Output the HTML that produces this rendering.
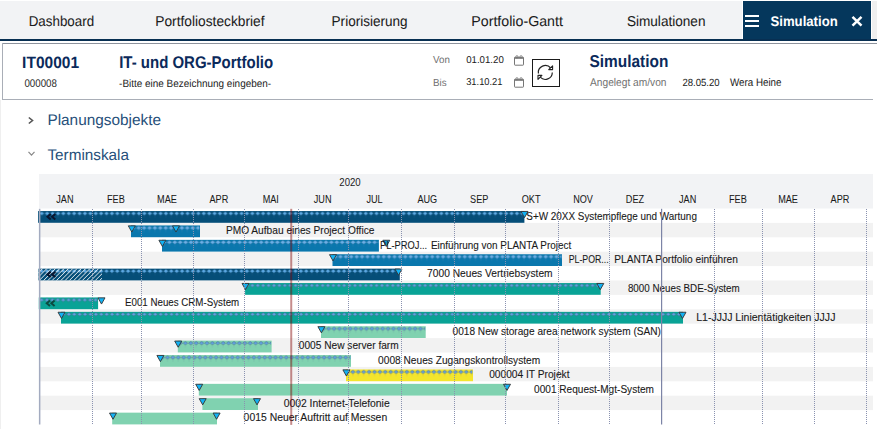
<!DOCTYPE html>
<html><head><meta charset="utf-8"><style>
html,body{margin:0;padding:0;background:#fff;width:877px;height:429px;overflow:hidden;position:relative;font-family:"Liberation Sans",sans-serif}
.t{position:absolute;white-space:pre}
.abs{position:absolute}
</style></head><body>
<div class="abs" style="left:0;top:1px;width:877px;height:38px;background:#f2f3f5"></div>
<div class="abs" style="left:742px;top:1px;width:1px;height:38px;background:#fff"></div>
<div class="abs" style="left:743px;top:1px;width:128px;height:38px;background:#05375c"></div>
<div class="abs" style="left:871px;top:1px;width:1px;height:38px;background:#fff"></div>
<div class="abs" style="left:872px;top:1px;width:5px;height:37.5px;background:#efefef"></div>
<div class="abs" style="left:0;top:39px;width:877px;height:2px;background:#082f52"></div>
<div class="abs" style="left:744.8px;top:14.9px;width:14.6px;height:1.8px;background:#fff"></div>
<div class="abs" style="left:744.8px;top:20.0px;width:14.6px;height:1.8px;background:#fff"></div>
<div class="abs" style="left:744.8px;top:25.1px;width:14.6px;height:1.8px;background:#fff"></div>
<svg class="abs" style="left:850px;top:14px" width="14" height="14" viewBox="0 0 14 14"><path d="M2.5 2.8L11.5 11.7M11.5 2.8L2.5 11.7" stroke="#fff" stroke-width="2.5" fill="none"/></svg>
<div class="abs" style="left:0;top:100px;width:1px;height:329px;background:#efefef"></div>
<div class="abs" style="left:2px;top:43px;width:875px;height:1px;background:#8d939d"></div>
<div class="abs" style="left:2px;top:43px;width:1px;height:57px;background:#a9aeb7"></div>
<div class="abs" style="left:2px;top:99px;width:871px;height:1px;background:#a9aeb7"></div>
<svg class="abs" style="left:513px;top:55.2px" width="12" height="12" viewBox="0 0 12 12"><rect x="1.5" y="2.2" width="9" height="8" rx="0.6" fill="none" stroke="#666" stroke-width="0.9"/><rect x="1.5" y="2.2" width="9" height="1.6" fill="#777"/><rect x="2.9" y="0.6" width="2" height="2.4" rx="0.8" fill="none" stroke="#777" stroke-width="0.7"/><rect x="7.1" y="0.6" width="2" height="2.4" rx="0.8" fill="none" stroke="#777" stroke-width="0.7"/></svg>
<svg class="abs" style="left:513px;top:76.8px" width="12" height="12" viewBox="0 0 12 12"><rect x="1.5" y="2.2" width="9" height="8" rx="0.6" fill="none" stroke="#666" stroke-width="0.9"/><rect x="1.5" y="2.2" width="9" height="1.6" fill="#777"/><rect x="2.9" y="0.6" width="2" height="2.4" rx="0.8" fill="none" stroke="#777" stroke-width="0.7"/><rect x="7.1" y="0.6" width="2" height="2.4" rx="0.8" fill="none" stroke="#777" stroke-width="0.7"/></svg>
<div class="abs" style="left:532px;top:59px;width:26px;height:26px;border:1px solid #1a1a1a;background:#fff"></div>
<svg class="abs" style="left:532px;top:59px" width="28" height="28" viewBox="0 0 28 28"><path d="M6.4 14.5A7 7 0 0 1 18.7 9" fill="none" stroke="#222" stroke-width="1.2"/><path d="M20.3 13.5A7 7 0 0 1 8.2 18.2" fill="none" stroke="#222" stroke-width="1.2"/><path d="M20.6 6.8L20.6 10.6L16.7 10.6Z" fill="#fff" stroke="#222" stroke-width="1.1" stroke-linejoin="round"/><path d="M6 20.3L6 16.4L9.9 16.4Z" fill="#fff" stroke="#222" stroke-width="1.1" stroke-linejoin="round"/></svg>
<svg class="abs" style="left:27px;top:116px" width="8" height="9" viewBox="0 0 8 9"><path d="M1.8 1.5L5.5 4.5L1.8 7.5" fill="none" stroke="#555" stroke-width="1.6"/></svg>
<svg class="abs" style="left:27px;top:150px" width="9" height="8" viewBox="0 0 9 8"><path d="M1.5 1.8L4.5 5.2L7.5 1.8" fill="none" stroke="#888" stroke-width="1.2"/></svg>
<svg class="abs" style="left:0;top:0" width="877" height="429" viewBox="0 0 877 429">
<defs><pattern id="d0" patternUnits="userSpaceOnUse" x="1.26" y="206.55" width="5.4" height="14.4">
<path d="M2.7 5.25L5.0 7L2.7 8.75L0.4 7Z" fill="#5eaeea" stroke="#3f6f96" stroke-width="0.3"/>
<rect x="2.45" y="8.8" width="0.5" height="2.6" fill="#3f6f96" opacity="0.3"/>
</pattern><pattern id="d1" patternUnits="userSpaceOnUse" x="1.00" y="206.55" width="5.4" height="14.4">
<path d="M2.7 5.25L5.0 7L2.7 8.75L0.4 7Z" fill="#6ab0ea" stroke="#6d8fae" stroke-width="0.35"/>
<rect x="2.45" y="8.8" width="0.5" height="2.6" fill="#6d8fae" opacity="0.25"/>
</pattern><pattern id="d2" patternUnits="userSpaceOnUse" x="-0.70" y="206.55" width="5.4" height="14.4">
<path d="M2.7 5.25L5.0 7L2.7 8.75L0.4 7Z" fill="#6ab0ea" stroke="#6d8fae" stroke-width="0.35"/>
<rect x="2.45" y="8.8" width="0.5" height="2.6" fill="#6d8fae" opacity="0.25"/>
</pattern><pattern id="d3" patternUnits="userSpaceOnUse" x="-2.40" y="206.55" width="5.4" height="14.4">
<path d="M2.7 5.25L5.0 7L2.7 8.75L0.4 7Z" fill="#6ab0ea" stroke="#6d8fae" stroke-width="0.35"/>
<rect x="2.45" y="8.8" width="0.5" height="2.6" fill="#6d8fae" opacity="0.25"/>
</pattern><pattern id="d4" patternUnits="userSpaceOnUse" x="1.20" y="206.55" width="5.4" height="14.4">
<path d="M2.7 5.25L5.0 7L2.7 8.75L0.4 7Z" fill="#5eaeea" stroke="#3f6f96" stroke-width="0.3"/>
<rect x="2.45" y="8.8" width="0.5" height="2.6" fill="#3f6f96" opacity="0.3"/>
</pattern><pattern id="d5" patternUnits="userSpaceOnUse" x="1.30" y="206.55" width="5.4" height="14.4">
<path d="M2.7 5.25L5.0 7L2.7 8.75L0.4 7Z" fill="#5fa2e6" stroke="#4a6580" stroke-width="0.5"/>
<rect x="2.45" y="8.8" width="0.5" height="2.6" fill="#4a6580" opacity="0.2"/>
</pattern><pattern id="d6" patternUnits="userSpaceOnUse" x="1.10" y="206.55" width="5.4" height="14.4">
<path d="M2.7 5.25L5.0 7L2.7 8.75L0.4 7Z" fill="#5fa2e6" stroke="#4a6580" stroke-width="0.5"/>
<rect x="2.45" y="8.8" width="0.5" height="2.6" fill="#4a6580" opacity="0.2"/>
</pattern><pattern id="d7" patternUnits="userSpaceOnUse" x="1.40" y="206.55" width="5.4" height="14.4">
<path d="M2.7 5.25L5.0 7L2.7 8.75L0.4 7Z" fill="#5fa2e6" stroke="#4a6580" stroke-width="0.5"/>
<rect x="2.45" y="8.8" width="0.5" height="2.6" fill="#4a6580" opacity="0.2"/>
</pattern><pattern id="d8" patternUnits="userSpaceOnUse" x="2.00" y="206.55" width="5.4" height="14.4">
<path d="M2.7 5.25L5.0 7L2.7 8.75L0.4 7Z" fill="#5fa2e6" stroke="#4a6580" stroke-width="0.5"/>
<rect x="2.45" y="8.8" width="0.5" height="2.6" fill="#4a6580" opacity="0.2"/>
</pattern><pattern id="d9" patternUnits="userSpaceOnUse" x="-0.90" y="206.55" width="5.4" height="14.4">
<path d="M2.7 5.25L5.0 7L2.7 8.75L0.4 7Z" fill="#5fa2e6" stroke="#4a6580" stroke-width="0.5"/>
<rect x="2.45" y="8.8" width="0.5" height="2.6" fill="#4a6580" opacity="0.2"/>
</pattern><pattern id="d10" patternUnits="userSpaceOnUse" x="-2.60" y="206.55" width="5.4" height="14.4">
<path d="M2.7 5.25L5.0 7L2.7 8.75L0.4 7Z" fill="#5fa2e6" stroke="#4a6580" stroke-width="0.5"/>
<rect x="2.45" y="8.8" width="0.5" height="2.6" fill="#4a6580" opacity="0.2"/>
</pattern><pattern id="d11" patternUnits="userSpaceOnUse" x="-0.80" y="206.55" width="5.4" height="14.4">
<path d="M2.7 5.25L5.0 7L2.7 8.75L0.4 7Z" fill="#5fa2e6" stroke="#4a6580" stroke-width="0.5"/>
<rect x="2.45" y="8.8" width="0.5" height="2.6" fill="#4a6580" opacity="0.2"/>
</pattern><pattern id="hatch" patternUnits="userSpaceOnUse" width="3.05" height="3.05" patternTransform="rotate(45)"><rect x="0" y="0" width="0.75" height="3.05" fill="#ffffff" opacity="0.85"/></pattern></defs>
<rect x="39" y="174" width="834" height="34.5" fill="#f2f3f5"/>
<rect x="39" y="222.90" width="834" height="14.4" fill="#f2f2f2"/>
<rect x="39" y="251.70" width="834" height="14.4" fill="#f2f2f2"/>
<rect x="39" y="280.50" width="834" height="14.4" fill="#f2f2f2"/>
<rect x="39" y="309.30" width="834" height="14.4" fill="#f2f2f2"/>
<rect x="39" y="338.10" width="834" height="14.4" fill="#f2f2f2"/>
<rect x="39" y="366.90" width="834" height="14.4" fill="#f2f2f2"/>
<rect x="39" y="395.70" width="834" height="14.4" fill="#f2f2f2"/>
<text x="56.27" y="203" font-family='"Liberation Sans", sans-serif' font-size="10.0" fill="#1a1a1a" stroke="#1a1a1a" stroke-width="0.06" textLength="17.21" lengthAdjust="spacingAndGlyphs">JAN</text>
<text x="107.05" y="203" font-family='"Liberation Sans", sans-serif' font-size="10.0" fill="#1a1a1a" stroke="#1a1a1a" stroke-width="0.06" textLength="17.74" lengthAdjust="spacingAndGlyphs">FEB</text>
<text x="157.09" y="203" font-family='"Liberation Sans", sans-serif' font-size="10.0" fill="#1a1a1a" stroke="#1a1a1a" stroke-width="0.06" textLength="19.76" lengthAdjust="spacingAndGlyphs">MAE</text>
<text x="209.50" y="203" font-family='"Liberation Sans", sans-serif' font-size="10.0" fill="#1a1a1a" stroke="#1a1a1a" stroke-width="0.06" textLength="18.74" lengthAdjust="spacingAndGlyphs">APR</text>
<text x="262.66" y="203" font-family='"Liberation Sans", sans-serif' font-size="10.0" fill="#1a1a1a" stroke="#1a1a1a" stroke-width="0.06" textLength="16.21" lengthAdjust="spacingAndGlyphs">MAI</text>
<text x="313.80" y="203" font-family='"Liberation Sans", sans-serif' font-size="10.0" fill="#1a1a1a" stroke="#1a1a1a" stroke-width="0.06" textLength="17.73" lengthAdjust="spacingAndGlyphs">JUN</text>
<text x="366.46" y="203" font-family='"Liberation Sans", sans-serif' font-size="10.0" fill="#1a1a1a" stroke="#1a1a1a" stroke-width="0.06" textLength="16.21" lengthAdjust="spacingAndGlyphs">JUL</text>
<text x="417.44" y="203" font-family='"Liberation Sans", sans-serif' font-size="10.0" fill="#1a1a1a" stroke="#1a1a1a" stroke-width="0.06" textLength="19.76" lengthAdjust="spacingAndGlyphs">AUG</text>
<text x="470.09" y="203" font-family='"Liberation Sans", sans-serif' font-size="10.0" fill="#1a1a1a" stroke="#1a1a1a" stroke-width="0.06" textLength="18.24" lengthAdjust="spacingAndGlyphs">SEP</text>
<text x="521.74" y="203" font-family='"Liberation Sans", sans-serif' font-size="10.0" fill="#1a1a1a" stroke="#1a1a1a" stroke-width="0.06" textLength="18.74" lengthAdjust="spacingAndGlyphs">OKT</text>
<text x="573.13" y="203" font-family='"Liberation Sans", sans-serif' font-size="10.0" fill="#1a1a1a" stroke="#1a1a1a" stroke-width="0.06" textLength="19.76" lengthAdjust="spacingAndGlyphs">NOV</text>
<text x="625.80" y="203" font-family='"Liberation Sans", sans-serif' font-size="10.0" fill="#1a1a1a" stroke="#1a1a1a" stroke-width="0.06" textLength="18.23" lengthAdjust="spacingAndGlyphs">DEZ</text>
<text x="679.05" y="203" font-family='"Liberation Sans", sans-serif' font-size="10.0" fill="#1a1a1a" stroke="#1a1a1a" stroke-width="0.06" textLength="17.21" lengthAdjust="spacingAndGlyphs">JAN</text>
<text x="728.99" y="203" font-family='"Liberation Sans", sans-serif' font-size="10.0" fill="#1a1a1a" stroke="#1a1a1a" stroke-width="0.06" textLength="17.74" lengthAdjust="spacingAndGlyphs">FEB</text>
<text x="778.17" y="203" font-family='"Liberation Sans", sans-serif' font-size="10.0" fill="#1a1a1a" stroke="#1a1a1a" stroke-width="0.06" textLength="19.76" lengthAdjust="spacingAndGlyphs">MAE</text>
<text x="830.58" y="203" font-family='"Liberation Sans", sans-serif' font-size="10.0" fill="#1a1a1a" stroke="#1a1a1a" stroke-width="0.06" textLength="18.74" lengthAdjust="spacingAndGlyphs">APR</text>
<text x="350" y="186" font-family='"Liberation Sans", sans-serif' font-size="10.8" fill="#1a1a1a" text-anchor="middle" textLength="21.4" lengthAdjust="spacingAndGlyphs">2020</text>
<rect x="38.10" y="211.05" width="486.30" height="11.75" fill="#054e78"/>
<rect x="38.60" y="211.05" width="485.30" height="8" fill="url(#d0)"/>
<path d="M50.70 214.10L47.50 216.80L50.70 219.50" fill="none" stroke="#0a1630" stroke-width="2"/>
<path d="M55.30 214.10L52.10 216.80L55.30 219.50" fill="none" stroke="#0a1630" stroke-width="2"/>
<path d="M521.00 211.45L528.00 211.45L524.50 217.65Z" fill="#12b2f4" stroke="#333" stroke-width="0.9" stroke-linejoin="round"/>
<rect x="131.00" y="225.45" width="69.00" height="11.75" fill="#0a77ad"/>
<rect x="131.50" y="225.45" width="68.00" height="8" fill="url(#d1)"/>
<path d="M128.30 225.85L135.30 225.85L131.80 232.05Z" fill="#12b2f4" stroke="#333" stroke-width="0.9" stroke-linejoin="round"/>
<path d="M172.50 225.85L179.50 225.85L176.00 232.05Z" fill="#12b2f4" stroke="#333" stroke-width="0.9" stroke-linejoin="round"/>
<rect x="162.00" y="239.85" width="216.90" height="11.75" fill="#0a77ad"/>
<rect x="162.50" y="239.85" width="215.90" height="8" fill="url(#d2)"/>
<path d="M158.90 240.25L165.90 240.25L162.40 246.45Z" fill="#12b2f4" stroke="#333" stroke-width="0.9" stroke-linejoin="round"/>
<path d="M382.80 240.25L389.80 240.25L386.30 246.45Z" fill="#12b2f4" stroke="#333" stroke-width="0.9" stroke-linejoin="round"/>
<rect x="332.50" y="254.25" width="229.50" height="11.75" fill="#0a77ad"/>
<rect x="333.00" y="254.25" width="228.50" height="8" fill="url(#d3)"/>
<path d="M329.50 254.65L336.50 254.65L333.00 260.85Z" fill="#12b2f4" stroke="#333" stroke-width="0.9" stroke-linejoin="round"/>
<rect x="38.50" y="268.65" width="361.30" height="11.75" fill="#054e78"/>
<rect x="39.00" y="268.65" width="360.30" height="8" fill="url(#d4)"/>
<rect x="38.5" y="268.65" width="63.5" height="11.75" fill="url(#hatch)"/>
<path d="M50.70 271.70L47.50 274.40L50.70 277.10" fill="none" stroke="#0a1630" stroke-width="2"/>
<path d="M55.30 271.70L52.10 274.40L55.30 277.10" fill="none" stroke="#0a1630" stroke-width="2"/>
<path d="M395.00 269.05L402.00 269.05L398.50 275.25Z" fill="#12b2f4" stroke="#333" stroke-width="0.9" stroke-linejoin="round"/>
<rect x="245.10" y="283.05" width="355.60" height="11.75" fill="#09a396"/>
<rect x="245.60" y="283.05" width="354.60" height="8" fill="url(#d5)"/>
<path d="M242.00 283.45L249.00 283.45L245.50 289.65Z" fill="#12b2f4" stroke="#333" stroke-width="0.9" stroke-linejoin="round"/>
<path d="M596.80 283.45L603.80 283.45L600.30 289.65Z" fill="#12b2f4" stroke="#333" stroke-width="0.9" stroke-linejoin="round"/>
<rect x="38.80" y="297.45" width="59.30" height="11.75" fill="#09a396"/>
<rect x="39.30" y="297.45" width="58.30" height="8" fill="url(#d6)"/>
<path d="M50.00 300.50L46.80 303.20L50.00 305.90" fill="none" stroke="#0b4a40" stroke-width="2"/>
<path d="M54.60 300.50L51.40 303.20L54.60 305.90" fill="none" stroke="#0b4a40" stroke-width="2"/>
<path d="M98.00 297.85L105.00 297.85L101.50 304.05Z" fill="#12b2f4" stroke="#333" stroke-width="0.9" stroke-linejoin="round"/>
<rect x="61.00" y="311.85" width="622.00" height="11.75" fill="#09a396"/>
<rect x="61.50" y="311.85" width="621.00" height="8" fill="url(#d7)"/>
<path d="M58.00 312.25L65.00 312.25L61.50 318.45Z" fill="#12b2f4" stroke="#333" stroke-width="0.9" stroke-linejoin="round"/>
<path d="M679.00 312.25L686.00 312.25L682.50 318.45Z" fill="#12b2f4" stroke="#333" stroke-width="0.9" stroke-linejoin="round"/>
<rect x="321.00" y="326.25" width="104.70" height="11.75" fill="#80d2b0"/>
<rect x="321.50" y="326.25" width="103.70" height="8" fill="url(#d8)"/>
<path d="M317.90 326.65L324.90 326.65L321.40 332.85Z" fill="#12b2f4" stroke="#333" stroke-width="0.9" stroke-linejoin="round"/>
<rect x="177.80" y="340.65" width="93.80" height="11.75" fill="#80d2b0"/>
<rect x="178.30" y="340.65" width="92.80" height="8" fill="url(#d9)"/>
<path d="M174.70 341.05L181.70 341.05L178.20 347.25Z" fill="#12b2f4" stroke="#333" stroke-width="0.9" stroke-linejoin="round"/>
<rect x="160.00" y="355.05" width="191.00" height="11.75" fill="#80d2b0"/>
<rect x="160.50" y="355.05" width="190.00" height="8" fill="url(#d10)"/>
<path d="M156.90 355.45L163.90 355.45L160.40 361.65Z" fill="#12b2f4" stroke="#333" stroke-width="0.9" stroke-linejoin="round"/>
<rect x="346.00" y="369.45" width="127.00" height="11.75" fill="#f4e52c"/>
<rect x="346.50" y="369.45" width="126.00" height="8" fill="url(#d11)"/>
<path d="M342.90 369.85L349.90 369.85L346.40 376.05Z" fill="#12b2f4" stroke="#333" stroke-width="0.9" stroke-linejoin="round"/>
<rect x="198.80" y="383.85" width="308.20" height="11.75" fill="#80d2b0"/>
<path d="M195.70 384.25L202.70 384.25L199.20 390.45Z" fill="#12b2f4" stroke="#333" stroke-width="0.9" stroke-linejoin="round"/>
<path d="M503.50 384.25L510.50 384.25L507.00 390.45Z" fill="#12b2f4" stroke="#333" stroke-width="0.9" stroke-linejoin="round"/>
<rect x="202.40" y="398.25" width="55.60" height="11.75" fill="#80d2b0"/>
<path d="M199.20 398.65L206.20 398.65L202.70 404.85Z" fill="#12b2f4" stroke="#333" stroke-width="0.9" stroke-linejoin="round"/>
<path d="M253.50 398.65L260.50 398.65L257.00 404.85Z" fill="#12b2f4" stroke="#333" stroke-width="0.9" stroke-linejoin="round"/>
<rect x="112.20" y="412.65" width="104.80" height="11.75" fill="#80d2b0"/>
<path d="M109.50 413.05L116.50 413.05L113.00 419.25Z" fill="#12b2f4" stroke="#333" stroke-width="0.9" stroke-linejoin="round"/>
<path d="M213.10 413.05L220.10 413.05L216.60 419.25Z" fill="#12b2f4" stroke="#333" stroke-width="0.9" stroke-linejoin="round"/>
<text x="526.30" y="219.70" font-family='"Liberation Sans", sans-serif' font-size="10.6" fill="#1a1a1a" stroke="#1a1a1a" stroke-width="0.1" textLength="170.60" lengthAdjust="spacingAndGlyphs">S+W 20XX Systempflege und Wartung</text>
<text x="225.90" y="234.10" font-family='"Liberation Sans", sans-serif' font-size="10.6" fill="#1a1a1a" stroke="#1a1a1a" stroke-width="0.1" textLength="148.50" lengthAdjust="spacingAndGlyphs">PMO Aufbau eines Project Office</text>
<text x="380.10" y="248.50" font-family='"Liberation Sans", sans-serif' font-size="10.6" fill="#1a1a1a" stroke="#1a1a1a" stroke-width="0.1" textLength="47.10" lengthAdjust="spacingAndGlyphs">PL-PROJ...</text>
<text x="430.90" y="248.50" font-family='"Liberation Sans", sans-serif' font-size="10.6" fill="#1a1a1a" stroke="#1a1a1a" stroke-width="0.1" textLength="140.30" lengthAdjust="spacingAndGlyphs">Einführung von PLANTA Project</text>
<text x="568.70" y="262.90" font-family='"Liberation Sans", sans-serif' font-size="10.6" fill="#1a1a1a" stroke="#1a1a1a" stroke-width="0.1" textLength="40.00" lengthAdjust="spacingAndGlyphs">PL-POR...</text>
<text x="614.30" y="262.90" font-family='"Liberation Sans", sans-serif' font-size="10.6" fill="#1a1a1a" stroke="#1a1a1a" stroke-width="0.1" textLength="123.60" lengthAdjust="spacingAndGlyphs">PLANTA Portfolio einführen</text>
<text x="427.10" y="277.30" font-family='"Liberation Sans", sans-serif' font-size="10.6" fill="#1a1a1a" stroke="#1a1a1a" stroke-width="0.1" textLength="125.50" lengthAdjust="spacingAndGlyphs">7000 Neues Vertriebsystem</text>
<text x="627.90" y="291.70" font-family='"Liberation Sans", sans-serif' font-size="10.6" fill="#1a1a1a" stroke="#1a1a1a" stroke-width="0.1" textLength="111.80" lengthAdjust="spacingAndGlyphs">8000 Neues BDE-System</text>
<text x="125.00" y="306.10" font-family='"Liberation Sans", sans-serif' font-size="10.6" fill="#1a1a1a" stroke="#1a1a1a" stroke-width="0.1" textLength="114.20" lengthAdjust="spacingAndGlyphs">E001 Neues CRM-System</text>
<text x="696.20" y="320.50" font-family='"Liberation Sans", sans-serif' font-size="10.6" fill="#1a1a1a" stroke="#1a1a1a" stroke-width="0.1" textLength="139.20" lengthAdjust="spacingAndGlyphs">L1-JJJJ Linientätigkeiten JJJJ</text>
<text x="452.60" y="334.90" font-family='"Liberation Sans", sans-serif' font-size="10.6" fill="#1a1a1a" stroke="#1a1a1a" stroke-width="0.1" textLength="208.30" lengthAdjust="spacingAndGlyphs">0018 New storage area network system (SAN)</text>
<text x="298.80" y="349.30" font-family='"Liberation Sans", sans-serif' font-size="10.6" fill="#1a1a1a" stroke="#1a1a1a" stroke-width="0.1" textLength="99.90" lengthAdjust="spacingAndGlyphs">0005 New server farm</text>
<text x="378.10" y="363.70" font-family='"Liberation Sans", sans-serif' font-size="10.6" fill="#1a1a1a" stroke="#1a1a1a" stroke-width="0.1" textLength="162.10" lengthAdjust="spacingAndGlyphs">0008 Neues Zugangskontrollsystem</text>
<text x="489.20" y="378.10" font-family='"Liberation Sans", sans-serif' font-size="10.6" fill="#1a1a1a" stroke="#1a1a1a" stroke-width="0.1" textLength="80.30" lengthAdjust="spacingAndGlyphs">000004 IT Projekt</text>
<text x="534.10" y="392.50" font-family='"Liberation Sans", sans-serif' font-size="10.6" fill="#1a1a1a" stroke="#1a1a1a" stroke-width="0.1" textLength="119.90" lengthAdjust="spacingAndGlyphs">0001 Request-Mgt-System</text>
<text x="283.70" y="406.90" font-family='"Liberation Sans", sans-serif' font-size="10.6" fill="#1a1a1a" stroke="#1a1a1a" stroke-width="0.1" textLength="106.00" lengthAdjust="spacingAndGlyphs">0002 Internet-Telefonie</text>
<text x="243.60" y="421.30" font-family='"Liberation Sans", sans-serif' font-size="10.6" fill="#1a1a1a" stroke="#1a1a1a" stroke-width="0.1" textLength="143.60" lengthAdjust="spacingAndGlyphs">0015 Neuer Auftritt auf Messen</text>
<line x1="92.5" y1="209" x2="92.5" y2="424.5" stroke="#8a92b0" stroke-width="1" stroke-dasharray="1 1"/>
<line x1="141.5" y1="209" x2="141.5" y2="424.5" stroke="#8a92b0" stroke-width="1" stroke-dasharray="1 1"/>
<line x1="193.5" y1="209" x2="193.5" y2="424.5" stroke="#8a92b0" stroke-width="1" stroke-dasharray="1 1"/>
<line x1="244.5" y1="209" x2="244.5" y2="424.5" stroke="#8a92b0" stroke-width="1" stroke-dasharray="1 1"/>
<line x1="298.5" y1="209" x2="298.5" y2="424.5" stroke="#8a92b0" stroke-width="1" stroke-dasharray="1 1"/>
<line x1="348.5" y1="209" x2="348.5" y2="424.5" stroke="#8a92b0" stroke-width="1" stroke-dasharray="1 1"/>
<line x1="401.5" y1="209" x2="401.5" y2="424.5" stroke="#8a92b0" stroke-width="1" stroke-dasharray="1 1"/>
<line x1="454.5" y1="209" x2="454.5" y2="424.5" stroke="#8a92b0" stroke-width="1" stroke-dasharray="1 1"/>
<line x1="505.5" y1="209" x2="505.5" y2="424.5" stroke="#8a92b0" stroke-width="1" stroke-dasharray="1 1"/>
<line x1="558.5" y1="209" x2="558.5" y2="424.5" stroke="#8a92b0" stroke-width="1" stroke-dasharray="1 1"/>
<line x1="609.5" y1="209" x2="609.5" y2="424.5" stroke="#8a92b0" stroke-width="1" stroke-dasharray="1 1"/>
<rect x="661" y="208.8" width="1.2" height="215.7" fill="#7c84a6"/>
<line x1="714.5" y1="209" x2="714.5" y2="424.5" stroke="#8a92b0" stroke-width="1" stroke-dasharray="1 1"/>
<line x1="762.5" y1="209" x2="762.5" y2="424.5" stroke="#8a92b0" stroke-width="1" stroke-dasharray="1 1"/>
<line x1="814.5" y1="209" x2="814.5" y2="424.5" stroke="#8a92b0" stroke-width="1" stroke-dasharray="1 1"/>
<line x1="866.5" y1="209" x2="866.5" y2="424.5" stroke="#8a92b0" stroke-width="1" stroke-dasharray="1 1"/>
<rect x="38.9" y="208.8" width="1.5" height="215.7" fill="#a3abc0"/>
<rect x="290.24" y="208.8" width="2" height="216.1" fill="#800000" opacity="0.45"/>
</svg>
<svg class="abs" style="left:0;top:0" width="877" height="429" font-family='"Liberation Sans", sans-serif' text-rendering="geometricPrecision" xml:space="preserve"><text x="28.70" y="26.00" font-size="14.3" fill="#1b1b1b" font-weight="400" textLength="65.4" lengthAdjust="spacingAndGlyphs" stroke="#1b1b1b" stroke-width="0.06">Dashboard</text><text x="155.30" y="26.00" font-size="14.3" fill="#1b1b1b" font-weight="400" textLength="109.2" lengthAdjust="spacingAndGlyphs" stroke="#1b1b1b" stroke-width="0.06">Portfoliosteckbrief</text><text x="331.60" y="26.00" font-size="14.3" fill="#1b1b1b" font-weight="400" textLength="76" lengthAdjust="spacingAndGlyphs" stroke="#1b1b1b" stroke-width="0.06">Priorisierung</text><text x="471.30" y="26.00" font-size="14.3" fill="#1b1b1b" font-weight="400" textLength="91.6" lengthAdjust="spacingAndGlyphs" stroke="#1b1b1b" stroke-width="0.06">Portfolio-Gantt</text><text x="626.90" y="26.00" font-size="14.3" fill="#1b1b1b" font-weight="400" textLength="78.6" lengthAdjust="spacingAndGlyphs" stroke="#1b1b1b" stroke-width="0.06">Simulationen</text><text x="770.50" y="25.80" font-size="14.0" fill="#ffffff" font-weight="700" textLength="67.2" lengthAdjust="spacingAndGlyphs" >Simulation</text><text x="22.10" y="67.80" font-size="16.4" fill="#0b2a5b" font-weight="700" textLength="57" lengthAdjust="spacingAndGlyphs" >IT00001</text><text x="24.40" y="86.90" font-size="11.1" fill="#2a2a2a" font-weight="400" textLength="32.5" lengthAdjust="spacingAndGlyphs" >000008</text><text x="119.20" y="67.90" font-size="17" fill="#0b2a5b" font-weight="700" textLength="154" lengthAdjust="spacingAndGlyphs" >IT- und ORG-Portfolio</text><text x="119.10" y="86.80" font-size="10.6" fill="#1a1a1a" font-weight="400" textLength="152" lengthAdjust="spacingAndGlyphs" >-Bitte eine Bezeichnung eingeben-</text><text x="433.00" y="62.70" font-size="10.1" fill="#707070" font-weight="400" textLength="16.8" lengthAdjust="spacingAndGlyphs" >Von</text><text x="466.20" y="63.30" font-size="10.0" fill="#1a1a1a" font-weight="400" textLength="37.6" lengthAdjust="spacingAndGlyphs" >01.01.20</text><text x="433.00" y="85.50" font-size="10.1" fill="#707070" font-weight="400" textLength="13.6" lengthAdjust="spacingAndGlyphs" >Bis</text><text x="466.20" y="85.30" font-size="10.0" fill="#1a1a1a" font-weight="400" textLength="36.3" lengthAdjust="spacingAndGlyphs" >31.10.21</text><text x="589.50" y="67.30" font-size="17.1" fill="#0b2a5b" font-weight="700" textLength="78.8" lengthAdjust="spacingAndGlyphs" >Simulation</text><text x="590.00" y="86.10" font-size="11.2" fill="#707070" font-weight="400" textLength="76.5" lengthAdjust="spacingAndGlyphs" >Angelegt am/von</text><text x="682.40" y="86.10" font-size="10.4" fill="#1a1a1a" font-weight="400" textLength="37.3" lengthAdjust="spacingAndGlyphs" >28.05.20</text><text x="730.00" y="86.10" font-size="11" fill="#1a1a1a" font-weight="400" textLength="51.5" lengthAdjust="spacingAndGlyphs" >Wera Heine</text><text x="47.40" y="124.80" font-size="15.4" fill="#27507a" font-weight="400" textLength="113.7" lengthAdjust="spacingAndGlyphs" >Planungsobjekte</text><text x="47.40" y="160.30" font-size="15.4" fill="#27507a" font-weight="400" textLength="81.6" lengthAdjust="spacingAndGlyphs" >Terminskala</text></svg>
</body></html>
